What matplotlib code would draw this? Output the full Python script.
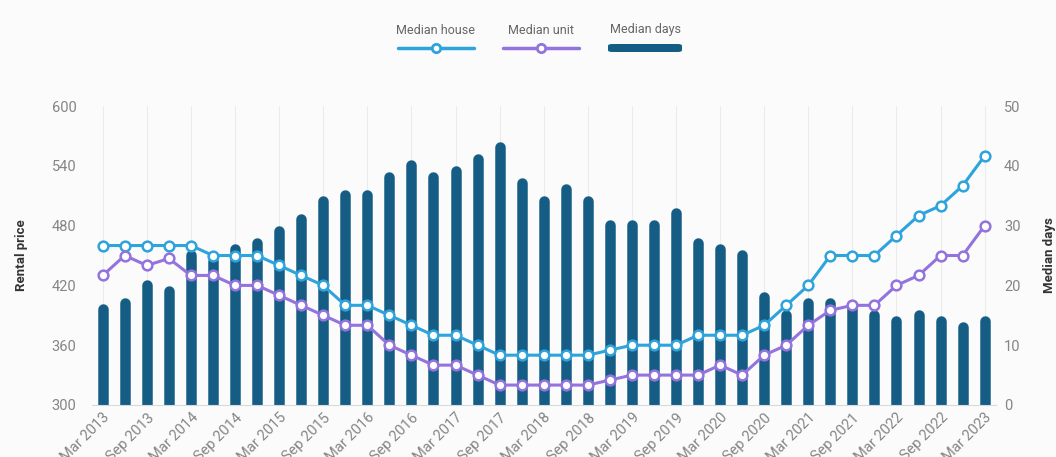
import matplotlib
matplotlib.use("Agg")
import matplotlib.pyplot as plt
from matplotlib.lines import Line2D
from matplotlib.patches import FancyBboxPatch
from matplotlib.transforms import ScaledTranslation

plt.rcParams['font.family'] = ['Roboto', 'DejaVu Sans']

quarters = ["Mar 2013", "Jun 2013", "Sep 2013", "Dec 2013",
            "Mar 2014", "Jun 2014", "Sep 2014", "Dec 2014",
            "Mar 2015", "Jun 2015", "Sep 2015", "Dec 2015",
            "Mar 2016", "Jun 2016", "Sep 2016", "Dec 2016",
            "Mar 2017", "Jun 2017", "Sep 2017", "Dec 2017",
            "Mar 2018", "Jun 2018", "Sep 2018", "Dec 2018",
            "Mar 2019", "Jun 2019", "Sep 2019", "Dec 2019",
            "Mar 2020", "Jun 2020", "Sep 2020", "Dec 2020",
            "Mar 2021", "Jun 2021", "Sep 2021", "Dec 2021",
            "Mar 2022", "Jun 2022", "Sep 2022", "Dec 2022",
            "Mar 2023"]

median_house = [460, 460, 460, 460, 460, 450, 450, 450, 440, 430, 420, 400, 400, 390,
                380, 370, 370, 360, 350, 350, 350, 350, 350, 355, 360, 360, 360, 370,
                370, 370, 380, 400, 420, 450, 450, 450, 470, 490, 500, 520, 550]
median_unit = [430, 450, 440, 447, 430, 430, 420, 420, 410, 400, 390, 380, 380, 360,
               350, 340, 340, 330, 320, 320, 320, 320, 320, 325, 330, 330, 330, 330,
               340, 330, 350, 360, 380, 395, 400, 400, 420, 430, 450, 450, 480]
median_days = [17, 18, 21, 20, 26, 25, 27, 28, 30, 32, 35, 36, 36, 39, 41, 39, 40, 42,
               44, 38, 35, 37, 35, 31, 31, 31, 33, 28, 27, 26, 19, 16, 18, 18, 17, 16,
               15, 16, 15, 14, 15]

price_ticks = [300, 360, 420, 480, 540, 600]
days_ticks = [0, 10, 20, 30, 40, 50]

C_HOUSE = "#2ea3dc"
C_UNIT = "#9373dd"
C_DAYS = "#165d86"
C_TICK = "#858585"
BG = "#fbfbfb"

W, H = 1056, 457
fig = plt.figure(figsize=(W / 100, H / 100), dpi=100, facecolor=BG)
left, right, bottom, top = 91.7 / W, 995.7 / W, (H - 405) / H, (H - 106) / H
ax2 = fig.add_axes([left, bottom, right - left, top - bottom])
ax = fig.add_axes([left, bottom, right - left, top - bottom], sharex=ax2)
ax.set_zorder(ax2.get_zorder() + 1)
ax.patch.set_visible(False)
ax2.set_facecolor(BG)

x = list(range(len(quarters)))
label_idx = x[::2]

# vertical grid lines at labelled positions
for i in label_idx:
    ax2.axvline(i, color="#ebebeb", lw=0.8, zorder=0)

# bars with rounded tops (round cap shifted down by its radius)
bar_w_px = 10.5
bar_lw = bar_w_px * 72 / 100
shift = ScaledTranslation(0, -bar_w_px / 2 / 100, fig.dpi_scale_trans)
ax2.vlines(x, -10, median_days, colors=C_DAYS, lw=bar_lw, capstyle="round",
           transform=ax2.transData + shift, zorder=2)
ax2.set_ylim(0, 50)
ax2.set_yticks(days_ticks)
ax2.yaxis.tick_right()
ax2.yaxis.set_label_position("right")

ax.plot(x, median_house, color=C_HOUSE, lw=2.2, marker="o", ms=7, mfc="white",
        mec=C_HOUSE, mew=1.8, zorder=3)
ax.plot(x, median_unit, color=C_UNIT, lw=2.2, marker="o", ms=7, mfc="white",
        mec=C_UNIT, mew=1.8, zorder=3)
ax.set_ylim(300, 600)
ax.set_yticks(price_ticks)
ax.set_xlim(-0.5, len(quarters) - 0.5)
ax.set_xticks(label_idx)
ax.set_xticklabels([quarters[i] for i in label_idx], rotation=45, ha="right",
                   rotation_mode="anchor", color=C_TICK, fontsize=10.5)
ax2.tick_params(axis="x", labelbottom=False)

for a in (ax, ax2):
    for s in a.spines.values():
        s.set_visible(False)
    a.tick_params(length=0, colors=C_TICK, labelsize=10.5)
ax2.spines["bottom"].set_visible(True)
ax2.spines["bottom"].set_color("#d9d9d9")
ax.tick_params(axis="y", pad=11)
ax2.tick_params(axis="y", pad=6)
ax.tick_params(axis="x", pad=4)

ax.set_ylabel("Rental price", fontsize=9.5, fontweight="bold", color="#333333")
ax2.set_ylabel("Median days", fontsize=9.5, fontweight="bold", color="#333333")
ax.yaxis.set_label_coords((28 - 91.7) / 904, 0.5)
ax2.yaxis.set_label_coords((1043 - 91.7) / 904, 0.5)

# legend drawn manually
def fx(px):
    return px / W

def fy(py):
    return 1 - py / H

for cx, txt, col in [(436, "Median house", C_HOUSE), (541, "Median unit", C_UNIT)]:
    fig.text(fx(cx), fy(30), txt, ha="center", va="center", fontsize=9, color="#666666")
    fig.add_artist(Line2D([fx(cx - 38), fx(cx + 38)], [fy(48), fy(48)], color=col, lw=2.5,
                          solid_capstyle="round"))
    fig.add_artist(Line2D([fx(cx)], [fy(48)], marker="o", ms=6, mfc="white", mec=col, mew=2))
fig.text(fx(645), fy(30), "Median days", ha="center", va="center", fontsize=9, color="#666666")
fig.add_artist(FancyBboxPatch((fx(608), fy(52)), fx(74), 8 / H,
                              boxstyle="round,pad=0,rounding_size=0.004",
                              fc=C_DAYS, ec="none", transform=fig.transFigure))

fig.savefig("out.png", dpi=100, facecolor=BG)
